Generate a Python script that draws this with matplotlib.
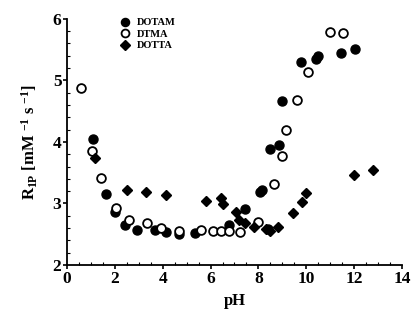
import matplotlib

matplotlib.use("Agg")
import matplotlib.pyplot as plt
from matplotlib.ticker import MultipleLocator

# DOTAM (filled circles)
ph_dotam = [1.09, 1.63, 2.0, 2.42, 2.92, 3.68, 4.14, 4.68, 5.35, 6.77, 7.44,
            8.05, 8.15, 8.4, 8.48, 8.86, 8.98, 9.78, 10.4, 10.5, 11.45, 12.03]
r_dotam = [4.05, 3.15, 2.86, 2.65, 2.57, 2.57, 2.54, 2.50, 2.52, 2.65, 2.91,
           3.18, 3.22, 2.58, 3.89, 3.95, 4.67, 5.30, 5.35, 5.39, 5.45, 5.51]

# DTMA (open circles)
ph_dtma = [0.58, 1.05, 1.42, 2.05, 2.6, 3.34, 3.93, 4.68, 5.6, 6.1, 6.43,
           6.77, 7.23, 7.98, 8.65, 8.98, 9.15, 9.61, 10.07, 10.99, 11.53]
r_dtma = [4.88, 3.85, 3.41, 2.93, 2.73, 2.68, 2.60, 2.55, 2.57, 2.55, 2.55,
          2.55, 2.54, 2.70, 3.32, 3.77, 4.20, 4.68, 5.14, 5.79, 5.77]

# DOTTA (diamonds)
ph_dotta = [1.17, 2.5, 3.3, 4.14, 5.81, 6.43, 6.52, 7.06, 7.19, 7.44, 7.81,
            8.32, 8.48, 8.82, 9.44, 9.82, 9.99, 12.0, 12.79]
r_dotta = [3.74, 3.22, 3.19, 3.14, 3.04, 3.09, 2.99, 2.86, 2.73, 2.68, 2.62,
           2.59, 2.55, 2.62, 2.85, 3.02, 3.17, 3.46, 3.54]

plt.rcParams["font.family"] = ["Liberation Serif", "DejaVu Serif"]
plt.rcParams["font.weight"] = "bold"
plt.rcParams["mathtext.fontset"] = "custom"
plt.rcParams["mathtext.rm"] = "Liberation Serif:bold"
plt.rcParams["mathtext.it"] = "Liberation Serif:bold"
plt.rcParams["mathtext.bf"] = "Liberation Serif:bold"

fig = plt.figure(figsize=(4.11, 3.2), dpi=100)
ax = fig.add_axes([0.163, 0.172, 0.815, 0.769])

ax.plot(ph_dotam, r_dotam, "o", color="k", ms=6.5, label="DOTAM")
ax.plot(ph_dtma, r_dtma, "o", mfc="white", mec="k", mew=1.3, ms=6.3, label="DTMA")
ax.plot(ph_dotta, r_dotta, "D", color="k", ms=5.5, label="DOTTA")

ax.set_xlim(0, 14)
ax.set_ylim(2, 6)
ax.xaxis.set_major_locator(MultipleLocator(2))
ax.xaxis.set_minor_locator(MultipleLocator(0.5))
ax.yaxis.set_major_locator(MultipleLocator(1))
ax.yaxis.set_minor_locator(MultipleLocator(0.2))
ax.tick_params(which="major", direction="out", length=3, width=1.2,
               labelsize=12.5, pad=1)
ax.tick_params(which="minor", direction="in", length=2, width=0.8)
for s in ("top", "right"):
    ax.spines[s].set_visible(False)
for s in ("left", "bottom"):
    ax.spines[s].set_linewidth(1.3)

ax.set_xlabel("pH", fontsize=12, fontweight="bold", labelpad=5)
ax.set_ylabel(r"R$_{\mathrm{1P}}$ [mM $^{-1}$ s $^{-1}$]", fontsize=12,
              fontweight="bold", labelpad=9)

ax.legend(loc="upper left", bbox_to_anchor=(0.145, 1.02), frameon=False,
          fontsize=7.5, handletextpad=0.6, labelspacing=0.2, handlelength=1,
          borderaxespad=0, markerscale=0.9)

fig.savefig("out.png", dpi=100)
